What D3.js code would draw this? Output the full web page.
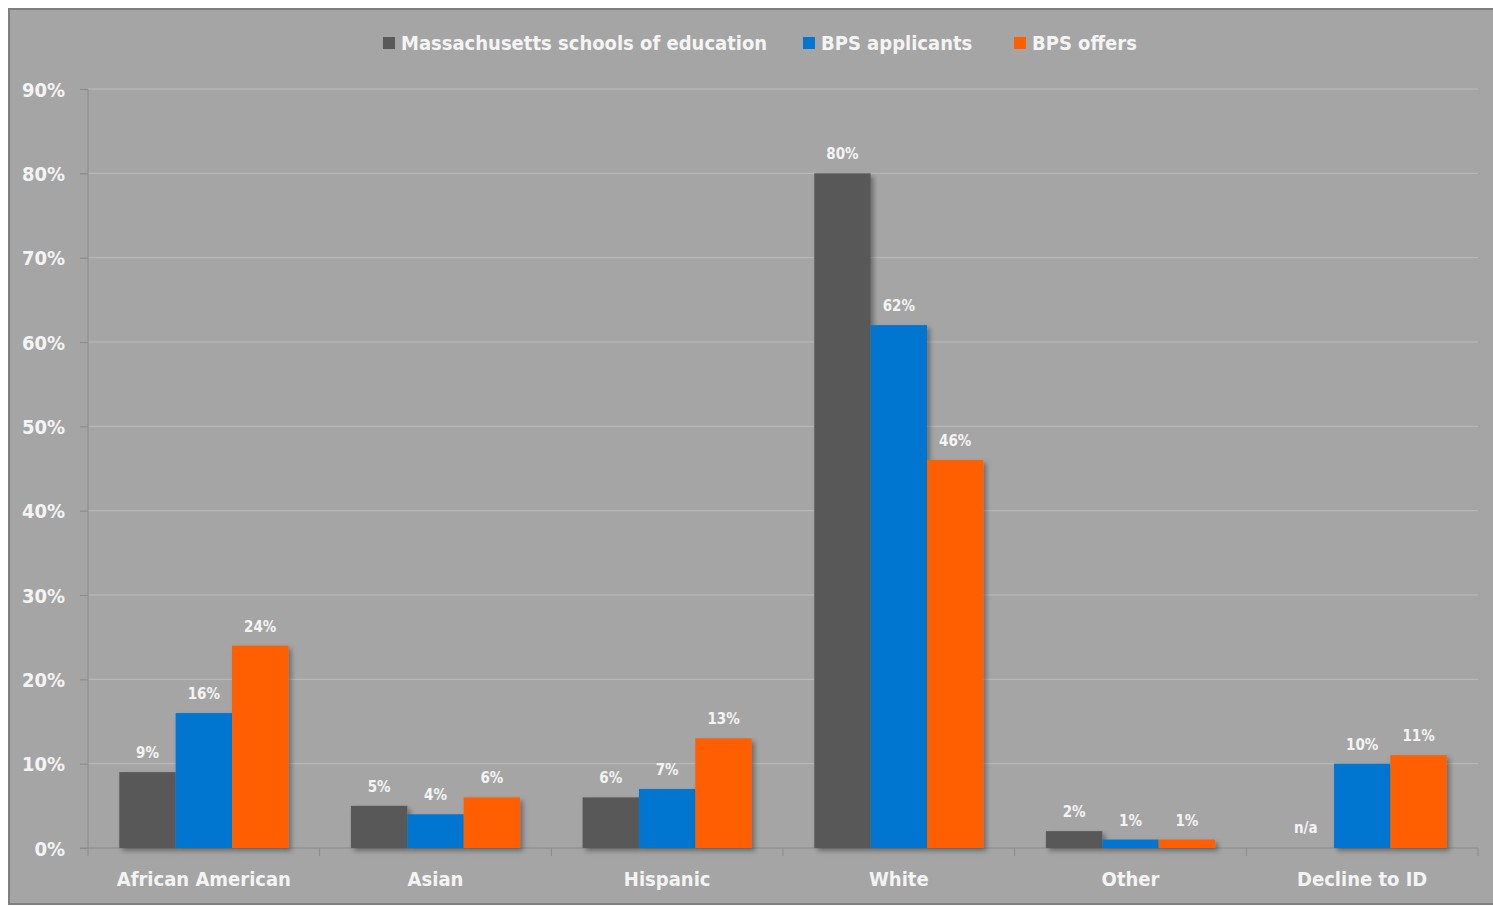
<!DOCTYPE html>
<html>
<head>
<meta charset="utf-8">
<script src="https://cdn.jsdelivr.net/npm/d3@7"></script>
<style>
  body { margin: 0; background: #fff; }
  text { font-family: "DejaVu Sans Condensed", "DejaVu Sans", sans-serif; font-weight: bold; fill: #f4f4f4; }
</style>
</head>
<body>
<div id="chart"></div>
<script>
// Data
const categories = ["African American", "Asian", "Hispanic", "White", "Other", "Decline to ID"];
const seriesNames = ["Massachusetts schools of education", "BPS applicants", "BPS offers"];
const maSchools = [9, 5, 6, 80, 2, null];
const bpsApplicants = [16, 4, 7, 62, 1, 10];
const bpsOffers = [24, 6, 13, 46, 1, 11];
const yTicks = [0, 10, 20, 30, 40, 50, 60, 70, 80, 90];
const colors = ["#595959", "#0076d0", "#ff5f00"];

const seriesValues = [maSchools, bpsApplicants, bpsOffers];

let width = 1493,
    height = 907;

let margin = { top: 89, bottom: 59, left: 88, right: 15 };

let svg = d3.select("#chart")
    .append("svg")
    .attr("width", width)
    .attr("height", height);

// drop shadow for bars
let defs = svg.append("defs");
defs.append("filter")
    .attr("id", "shadow")
    .attr("x", "-20%").attr("y", "-20%")
    .attr("width", "150%").attr("height", "150%")
    .append("feDropShadow")
    .attr("dx", 3).attr("dy", 3)
    .attr("stdDeviation", 2.5)
    .attr("flood-color", "#000")
    .attr("flood-opacity", 0.35);

// frame (right edge runs off the page like the original)
svg.append("rect")
    .attr("x", 9).attr("y", 9)
    .attr("width", width).attr("height", 895)
    .attr("fill", "#a5a5a5")
    .attr("stroke", "#7f7f7f")
    .attr("stroke-width", 2);

let plotW = width - margin.left - margin.right,
    plotH = height - margin.top - margin.bottom;

let g = svg.append("g")
    .attr("transform", `translate(${margin.left},${margin.top})`);

// Scales
let x0 = d3.scaleBand()
    .domain(categories)
    .range([0, plotW])
    .paddingInner(0.27)
    .paddingOuter(0.135);

let x1 = d3.scaleBand()
    .domain(seriesNames)
    .range([0, x0.bandwidth()]);

let y = d3.scaleLinear()
    .domain([0, 90])
    .range([plotH, 0]);

// gridlines
g.selectAll("line.grid")
    .data(yTicks.filter(d => d > 0))
    .enter()
    .append("line")
    .attr("x1", 0)
    .attr("x2", plotW)
    .attr("y1", d => y(d))
    .attr("y2", d => y(d))
    .attr("stroke", "#bcbcbc")
    .attr("stroke-width", 1);

// y axis
let yAxis = g.append("g")
    .call(d3.axisLeft(y).tickValues(yTicks).tickFormat(d => d + "%").tickSize(8).tickPadding(15));
yAxis.select(".domain").remove();
yAxis.selectAll("line").attr("stroke", "#8a8a8a");
yAxis.selectAll("text")
    .style("font-size", "20px")
    .attr("fill", "#f4f4f4")
    .attr("dy", "0.36em");
g.append("line")
    .attr("x1", 0).attr("x2", 0)
    .attr("y1", 0).attr("y2", plotH + 8)
    .attr("stroke", "#8a8a8a");

// x axis line and ticks between categories
g.append("line")
    .attr("x1", -8).attr("x2", plotW)
    .attr("y1", plotH).attr("y2", plotH)
    .attr("stroke", "#8a8a8a");

let step = x0.step();
let bounds = d3.range(1, categories.length + 1).map(i => x0(categories[i - 1]) + x0.bandwidth() + step * x0.paddingInner() / 2);
g.selectAll("line.xtick")
    .data(bounds)
    .enter()
    .append("line")
    .attr("x1", d => d).attr("x2", d => d)
    .attr("y1", plotH).attr("y2", plotH + 8)
    .attr("stroke", "#8a8a8a");

// category labels
g.selectAll("text.cat")
    .data(categories)
    .enter()
    .append("text")
    .attr("x", d => x0(d) + x0.bandwidth() / 2)
    .attr("y", plotH + 38)
    .attr("text-anchor", "middle")
    .style("font-size", "20px")
    .text(d => d);

// bars
seriesNames.forEach((name, si) => {
    let vals = seriesValues[si];
    let bars = g.append("g").attr("filter", "url(#shadow)");
    bars.selectAll("rect")
        .data(categories.map((c, i) => ({ c, v: vals[i] })).filter(d => d.v != null))
        .enter()
        .append("rect")
        .attr("x", d => x0(d.c) + x1(name))
        .attr("y", d => y(d.v))
        .attr("width", x1.bandwidth())
        .attr("height", d => plotH - y(d.v))
        .attr("fill", colors[si]);

    g.selectAll("text.val" + si)
        .data(categories.map((c, i) => ({ c, v: vals[i] })))
        .enter()
        .append("text")
        .attr("x", d => x0(d.c) + x1(name) + x1.bandwidth() / 2)
        .attr("y", d => d.v == null ? plotH - 15 : y(d.v) - 14)
        .attr("text-anchor", "middle")
        .style("font-size", "15px")
        .text(d => d.v == null ? "n/a" : d.v + "%");
});

// legend
let legendX = [383, 803, 1014];
let legend = svg.append("g");
seriesNames.forEach((name, i) => {
    legend.append("rect")
        .attr("x", legendX[i]).attr("y", 37)
        .attr("width", 12).attr("height", 12)
        .attr("fill", colors[i]);
    legend.append("text")
        .attr("x", legendX[i] + 18)
        .attr("y", 50)
        .style("font-size", "20px")
        .text(name);
});
</script>
</body>
</html>
